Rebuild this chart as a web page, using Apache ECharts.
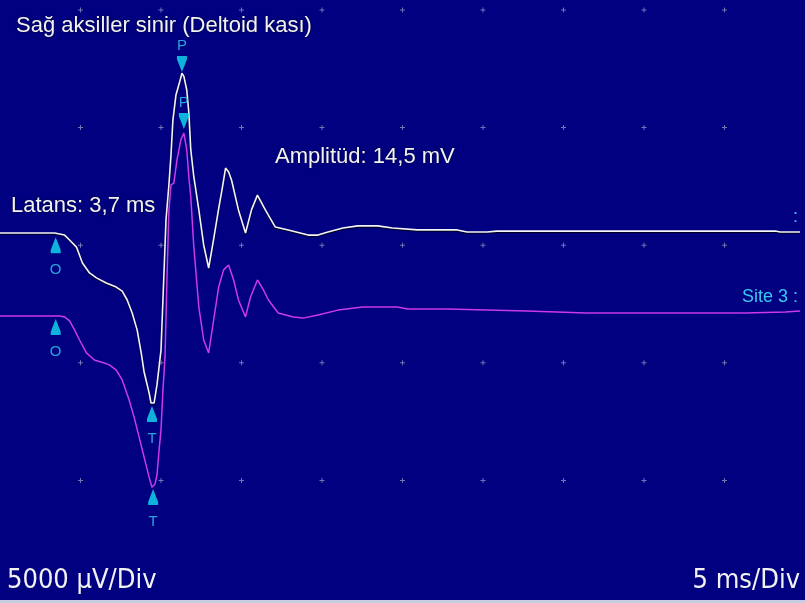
<!DOCTYPE html>
<html>
<head>
<meta charset="utf-8">
<script src="https://cdn.jsdelivr.net/npm/echarts@6/dist/echarts.min.js"></script>
<style>
html,body{margin:0;padding:0;background:#000080;}
#chart{width:805px;height:603px;}
</style>
</head>
<body>
<div id="chart"></div>
<script>
// ---- Data (time in ms, amplitude in mV as displayed) ----
var whiteTime = [0,3.40,3.70,4.01,4.32,4.75,5.12,5.56,5.99,6.60,7.22,7.59,7.90,8.21,8.52,8.77,8.95,9.07,9.26,9.38,9.57,9.75,9.88,10.00,10.12,10.31,10.49,10.62,10.74,10.93,11.17,11.30,11.42,11.60,11.73,11.85,12.04,12.35,12.65,12.96,13.27,13.58,13.83,14.01,14.20,14.38,14.81,15.25,15.62,15.99,16.48,17.10,17.90,19.14,19.75,20.37,21.30,22.22,23.46,24.38,25.93,28.40,29.01,30.25,30.86,34.57,39.51,48.15,48.46,49.69];
var whiteMv = [0.52,0.52,0.48,0.43,0.22,-0.08,-0.76,-1.18,-1.39,-1.61,-1.78,-1.95,-2.33,-2.88,-3.61,-4.58,-5.39,-5.73,-6.28,-6.71,-6.71,-5.94,-5.17,-4.46,-2.33,1.07,2.56,3.83,5.32,6.39,6.97,7.31,7.18,6.60,5.62,4.05,2.90,1.50,0.01,-0.97,0.26,1.54,2.52,3.28,3.11,2.77,1.50,0.52,1.50,2.13,1.50,0.77,0.65,0.43,0.43,0.56,0.73,0.82,0.82,0.73,0.65,0.65,0.56,0.56,0.60,0.60,0.60,0.60,0.56,0.56];

var site3Time = [0,3.70,4.01,4.32,4.63,4.94,5.37,5.86,6.48,6.79,7.22,7.59,8.02,8.33,8.64,8.95,9.26,9.44,9.63,9.75,9.88,10.00,10.12,10.25,10.37,10.49,10.62,10.80,10.99,11.23,11.42,11.60,11.73,11.85,12.04,12.35,12.65,12.96,13.27,13.58,13.89,14.20,14.51,14.81,15.25,15.56,15.99,16.36,16.67,17.28,18.21,18.83,19.75,20.99,22.53,24.69,25.31,27.78,32.72,36.42,39.51,46.30,48.77,49.69];
var site3Mv = [-3.01,-3.01,-3.05,-3.22,-3.60,-4.03,-4.58,-4.88,-5.01,-5.09,-5.31,-5.73,-6.58,-7.31,-8.16,-9.01,-9.86,-10.29,-10.15,-9.77,-8.71,-7.86,-6.16,-4.75,-1.48,1.50,2.56,2.64,3.62,4.47,4.77,4.05,2.90,2.05,-0.08,-2.63,-4.03,-4.58,-3.18,-1.78,-1.05,-0.84,-1.48,-2.33,-3.05,-2.20,-1.48,-1.90,-2.33,-2.88,-3.05,-3.10,-2.97,-2.76,-2.63,-2.63,-2.71,-2.71,-2.80,-2.88,-2.88,-2.88,-2.84,-2.80];

// cursor markers (O = onset, T = trough, P = peak)
var markerLabels = ['O','T','P'];
var whiteMarkerTime = [3.46, 9.44, 11.30];
var whiteMarkerMv = [0.0, -7.18, 7.70];
var site3MarkerTime = [3.46, 9.51, 11.42];
var site3MarkerMv = [-3.48, -10.71, 5.28];

// screen divisions
var divX = [5,10,15,20,25,30,35,40,45];
var divY = [-10,-5,0,5,10];

var titleText = 'Sağ aksiller sinir (Deltoid kası)';
var latencyText = 'Latans: 3,7 ms';
var amplitudeText = 'Amplitüd: 14,5 mV';
var ySensText = '5000 µV/Div';
var xSensText = '5 ms/Div';
var site3Name = 'Site 3 :';

function pairs(xs, ys){ return xs.map(function(x,i){ return [x, ys[i]]; }); }

var gridDots = [];
divX.forEach(function(x){ divY.forEach(function(y){ gridDots.push([x,y]); }); });

var markerPath = 'path://M5,0 L10,12 L10,15 L0,15 L0,12 Z';
var cyan = '#10e0f0';
var labelCyan = '#38c8f0';

function markerSeries(times, vals){
  var up = [], down = [];
  times.forEach(function(t,i){
    var item = {value:[t, vals[i]], name: markerLabels[i]};
    if (markerLabels[i] === 'P') down.push(item); else up.push(item);
  });
  return [
    {type:'scatter', data: up, symbol: markerPath, symbolSize:[10,16], itemStyle:{color:cyan}, z:5,
     label:{show:true, position:'bottom', distance:9, formatter:'{b}', color:labelCyan, fontSize:15, fontFamily:'Liberation Sans'}},
    {type:'scatter', data: down, symbol: markerPath, symbolRotate:180, symbolSize:[10,16], itemStyle:{color:cyan}, z:5,
     label:{show:true, position:'top', distance:3, formatter:'{b}', color:labelCyan, fontSize:15, fontFamily:'Liberation Sans'}}
  ];
}

var chart = echarts.init(document.getElementById('chart'), null, {renderer:'canvas'});
var series = [
  {type:'scatter', data: gridDots, symbol:'path://M2,0H3V2H5V3H3V5H2V3H0V2H2Z', symbolSize:5, itemStyle:{color:'#9090c0'}, silent:true, z:1},
  {type:'line', data: pairs(site3Time, site3Mv), showSymbol:false, lineStyle:{color:'#cc3ae6', width:1.5}, z:3},
  {type:'line', data: pairs(whiteTime, whiteMv), showSymbol:false, lineStyle:{color:'#f4f4f4', width:1.6, shadowColor:'rgba(0,0,0,0.8)', shadowBlur:1, shadowOffsetY:1}, z:4}
].concat(markerSeries(whiteMarkerTime, whiteMarkerMv)).concat(markerSeries(site3MarkerTime, site3MarkerMv));

var txtStyle = {fill:'#f2f2f2', font:'22px "Liberation Sans"', textShadowColor:'rgba(0,0,0,0.7)', textShadowBlur:2};
function ts(text){ return Object.assign({text:text}, txtStyle); }

chart.setOption({
  animation:false,
  backgroundColor:'#000080',
  grid:{left:0, top:10, width:810, height:588, containLabel:false},
  xAxis:{type:'value', min:0, max:50, interval:5, show:false},
  yAxis:{type:'value', min:-15, max:10, interval:5, show:false},
  series: series,
  graphic:[
    {type:'text', left:16, top:15, style:ts(titleText)},
    {type:'text', left:11, top:195, style:ts(latencyText)},
    {type:'text', left:275, top:146, style:ts(amplitudeText)},
    {type:'text', left:7, top:567, style:{text:ySensText, fill:'#f2f2f2', font:'27px "DejaVu Sans Condensed", "DejaVu Sans"'}},
    {type:'text', right:5, top:567, style:{text:xSensText, fill:'#f2f2f2', font:'27px "DejaVu Sans Condensed", "DejaVu Sans"'}},
    {type:'text', right:7, top:288, style:{text:site3Name, fill:labelCyan, font:'18px "Liberation Sans"'}},
    {type:'text', right:7, top:208, style:{text:':', fill:labelCyan, font:'18px "Liberation Sans"'}},
    {type:'rect', left:0, top:600, shape:{width:805, height:3}, style:{fill:'#c8cce0'}}
  ]
});
</script>
</body>
</html>
